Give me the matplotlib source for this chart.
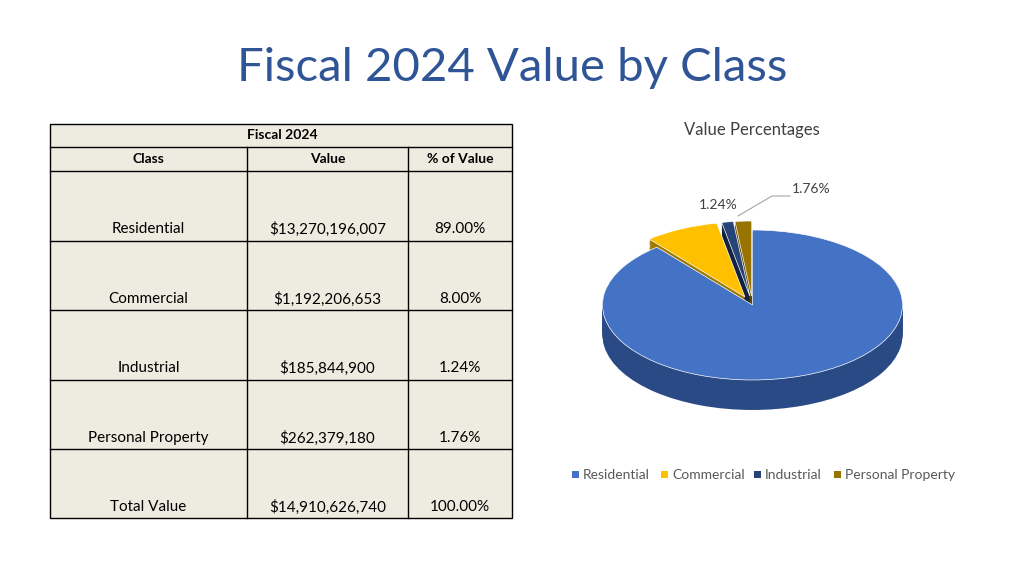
import matplotlib
matplotlib.use("Agg")
import matplotlib.pyplot as plt
import numpy as np
from matplotlib.patches import Rectangle

classes = ["Residential", "Commercial", "Industrial", "Personal Property"]
values = ["$13,270,196,007", "$1,192,206,653", "$185,844,900", "$262,379,180"]
pcts = [89.00, 8.00, 1.24, 1.76]
total_label = ["Total Value", "$14,910,626,740", "100.00%"]
colors = ["#4472C4", "#FFC000", "#264478", "#997300"]
dark = ["#2A4A86", "#A07800", "#13233F", "#5E4700"]

FONT = "Lato"
fig = plt.figure(figsize=(10.24, 5.76), dpi=100)
bg = fig.add_axes([0, 0, 1, 1])
bg.set_xlim(0, 1024); bg.set_ylim(576, 0); bg.axis("off")

bg.text(512, 68, "Fiscal 2024 Value by Class", ha="center", va="center",
        fontsize=34, color="#2F5597", family=FONT)

# table
cols = [50, 247, 408, 512]
rows = [124, 147, 171, 241, 310, 380, 449, 518]
fill = "#EEECE1"
bg.add_patch(Rectangle((cols[0], rows[0]), cols[-1]-cols[0], rows[-1]-rows[0],
                       facecolor=fill, edgecolor="black", lw=1))
for y in rows[1:-1]:
    bg.plot([cols[0], cols[-1]], [y, y], color="black", lw=1)
for x in cols[1:-1]:
    bg.plot([x, x], [rows[1], rows[-1]], color="black", lw=1)
bg.text(282, 135, "Fiscal 2024", ha="center", va="center", fontsize=10, weight="bold", family=FONT)
for i, h in enumerate(["Class", "Value", "% of Value"]):
    bg.text((cols[i]+cols[i+1])/2, 159, h, ha="center", va="center", fontsize=10, weight="bold", family=FONT)
body = [[c, v, f"{p:.2f}%"] for c, v, p in zip(classes, values, pcts)] + [total_label]
for r, rowvals in enumerate(body):
    y = rows[r+2] + 58
    for i, t in enumerate(rowvals):
        bg.text((cols[i]+cols[i+1])/2, y, t, ha="center", va="center", fontsize=11, family=FONT)

# pie
bg.text(752, 130, "Value Percentages", ha="center", va="center", fontsize=12, color="#404040", family=FONT)
ax = fig.add_axes([580/1024, 1-430/576, 345/1024, 270/576])
ax.set_xlim(-1.15, 1.15); ax.set_ylim(-1.667, 1.933); ax.axis("off")
explode = [0, 0.12, 0.12, 0.12]
for d in np.linspace(0.4, 0.01, 25):
    ax.pie(pcts, colors=dark, startangle=90, counterclock=False, explode=explode,
           center=(0, -d), frame=True, wedgeprops=dict(linewidth=0))
ax.pie(pcts, colors=colors, startangle=90, counterclock=False, explode=explode,
       center=(0, 0), frame=True, wedgeprops=dict(linewidth=0.5, edgecolor="white"))
ax.set_xlim(-1.15, 1.15); ax.set_ylim(-1.667, 1.933); ax.set_aspect("auto"); ax.axis("off")

bg.text(763, 304, "89.00%", ha="center", va="center", fontsize=10, color="#404040", family=FONT)
bg.text(695, 236, "8.00%", ha="center", va="center", fontsize=10, color="#404040", family=FONT)
bg.text(718, 205, "1.24%", ha="center", va="center", fontsize=10, color="#404040", family=FONT)
bg.text(811, 189, "1.76%", ha="center", va="center", fontsize=10, color="#404040", family=FONT)
bg.plot([738, 772, 790], [216, 196, 196], color="#A6A6A6", lw=0.8)

# legend
lx = [576, 665, 758, 838]
for x, c, n in zip(lx, colors, classes):
    bg.add_patch(Rectangle((x-4, 471), 7, 7, facecolor=c))
    bg.text(x+7, 475, n, ha="left", va="center", fontsize=10, color="#595959", family=FONT)

fig.savefig("out.png", dpi=100)
